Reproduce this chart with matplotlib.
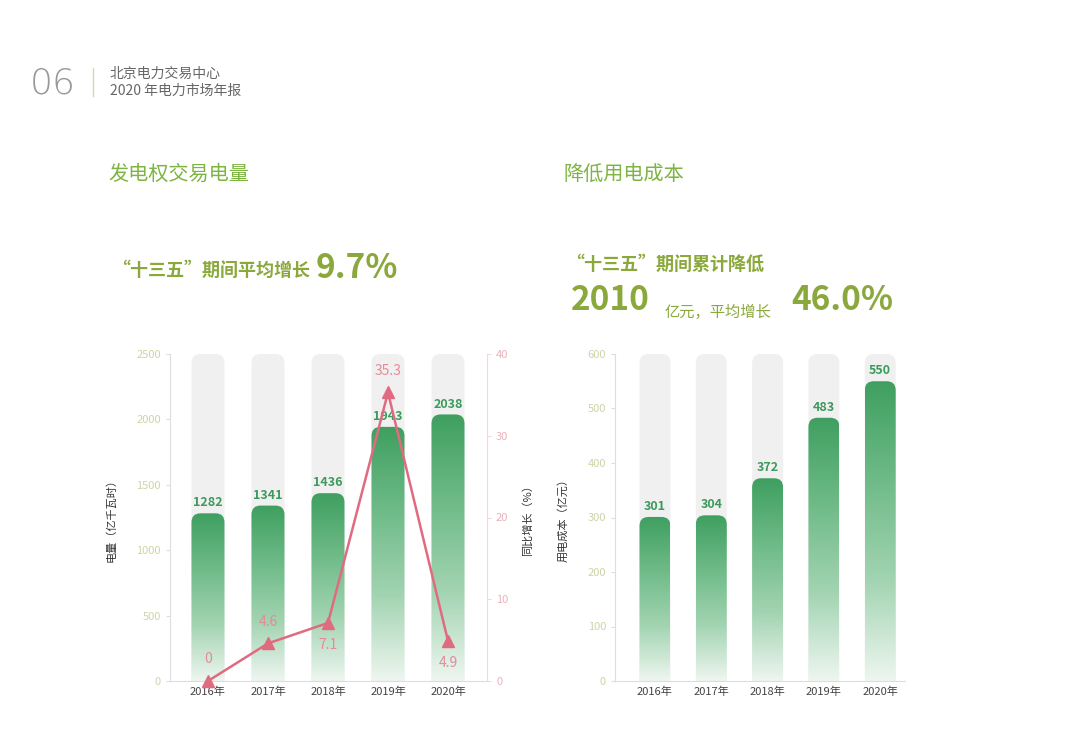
import matplotlib
matplotlib.use("Agg")
import matplotlib.pyplot as plt
import numpy as np
from matplotlib.patches import FancyBboxPatch
from matplotlib.colors import LinearSegmentedColormap

plt.rcParams["font.family"] = "Noto Sans CJK SC"

years = ["2016年", "2017年", "2018年", "2019年", "2020年"]
volume = [1282, 1341, 1436, 1943, 2038]
growth = [0, 4.6, 7.1, 35.3, 4.9]
growth_labels = ["0", "4.6", "7.1", "35.3", "4.9"]
cost = [301, 304, 372, 483, 550]

GREEN_T = "#7db442"
OLIVE = "#8aa83c"
VAL = "#3c9a5c"
PINK = "#e06b80"

fig = plt.figure(figsize=(10.8, 7.38), dpi=100)
cmap = LinearSegmentedColormap.from_list("g", ["#eef6f0", "#a3d4b2", "#6fbb88", "#3f9f60"])

def px(x, y):
    return x / 1080, 1 - y / 738

def draw_bars(ax, vals, ymax, xlim, ax_w_px, ax_h_px, bw=0.55):
    ax.set_xlim(*xlim)
    ax.set_ylim(0, ymax)
    ux = (xlim[1] - xlim[0]) / ax_w_px
    uy = ymax / ax_h_px
    asp = uy / ux
    r = 9 * ux
    grad = np.linspace(0, 1, 256).reshape(-1, 1)
    for i, v in enumerate(vals):
        bg = FancyBboxPatch((i - bw / 2, -r * asp * 2), bw, ymax + r * asp * 2,
                            boxstyle=f"round,pad=0,rounding_size={r}",
                            mutation_aspect=asp, fc="#f0f0f0", ec="none", zorder=1)
        ax.add_patch(bg)
        p = FancyBboxPatch((i - bw / 2, -r * asp * 2), bw, v + r * asp * 2,
                           boxstyle=f"round,pad=0,rounding_size={r}",
                           mutation_aspect=asp, fc="none", ec="none", zorder=2)
        ax.add_patch(p)
        im = ax.imshow(grad, cmap=cmap, aspect="auto", origin="lower",
                       extent=(i - bw / 2, i + bw / 2, 0, v), zorder=2)
        im.set_clip_path(p)
        ax.text(i, v + ymax * 0.012, str(v), ha="center", va="bottom",
                color=VAL, fontsize=9, fontweight="bold", zorder=5)
    ax.set_xticks(range(len(years)))
    ax.set_xticklabels(years, fontsize=8, color="#444444")
    for s in ["top", "right"]:
        ax.spines[s].set_visible(False)
    for s in ["left", "bottom"]:
        ax.spines[s].set_color("#dddddd")
    ax.tick_params(axis="x", length=0, pad=4)
    ax.tick_params(axis="y", length=3, color="#dddddd", labelsize=8)

# Left chart
l, b = px(170, 681)
ax1 = fig.add_axes([l, b, (487 - 170) / 1080, (681 - 354) / 738])
draw_bars(ax1, volume, 2500, (-0.633, 4.65), 317, 327)
ax1.set_yticks(range(0, 2501, 500))
ax1.tick_params(axis="y", labelcolor="#cdd4a6")
ax1.set_ylabel("电量（亿千瓦时）", fontsize=8, color="#333333", labelpad=14)

ax2 = ax1.twinx()
ax2.set_ylim(0, 40)
ax2.set_yticks(range(0, 41, 10))
for s in ["top", "left", "bottom"]:
    ax2.spines[s].set_visible(False)
ax2.spines["right"].set_color("#f0d8dc")
ax2.tick_params(axis="y", length=3, color="#f0d8dc", labelsize=8, labelcolor="#eab2bc")
ax2.set_ylabel("同比增长（%）", fontsize=8, color="#333333", rotation=90, labelpad=10)
ax2.plot(range(len(growth)), growth, color=PINK, lw=1.8, marker="^", ms=9, zorder=6, clip_on=False)
offs = [1.2, 1.2, -1.2, 1.2, -1.2]
for i, (g, t) in enumerate(zip(growth, growth_labels)):
    ax2.text(i, g + offs[i] * 1.5, t, ha="center", va="bottom" if offs[i] > 0 else "top",
             color="#e58a98", fontsize=10, zorder=7)

# Right chart
l, b = px(615, 681)
ax3 = fig.add_axes([l, b, (905 - 615) / 1080, (681 - 354) / 738])
draw_bars(ax3, cost, 600, (-0.71, 4.44), 290, 327)
ax3.set_yticks(range(0, 601, 100))
ax3.tick_params(axis="y", labelcolor="#cdd4a6")
ax3.set_ylabel("用电成本（亿元）", fontsize=8, color="#333333", labelpad=14)

# Header
fig.text(*px(30, 84), "06", fontsize=26, color="#999999", fontweight="light",
         family="DejaVu Sans", va="center")
fig.add_artist(plt.Line2D([93 / 1080, 93 / 1080], [1 - 68 / 738, 1 - 96 / 738], color="#c9dcb5", lw=1))
fig.text(*px(110, 74), "北京电力交易中心", fontsize=10, color="#666666", va="center")
fig.text(*px(110, 91), "2020 年电力市场年报", fontsize=10, color="#666666", va="center")

# Titles
fig.text(*px(108, 174), "发电权交易电量", fontsize=14.5, color=GREEN_T, va="center")
fig.text(*px(563, 174), "降低用电成本", fontsize=14.5, color=GREEN_T, va="center")
fig.text(*px(112, 270), "“十三五”期间平均增长", fontsize=13, color=OLIVE, va="center", fontweight="bold")
fig.text(*px(316, 268), "9.7%", fontsize=24, color=OLIVE, va="center", fontweight="bold")
fig.text(*px(566, 264), "“十三五”期间累计降低", fontsize=13, color=OLIVE, va="center", fontweight="bold")
fig.text(*px(571, 300), "2010", fontsize=24, color=OLIVE, va="center", fontweight="bold")
fig.text(*px(665, 312), "亿元，平均增长", fontsize=11, color=OLIVE, va="center")
fig.text(*px(791, 300), "46.0%", fontsize=24, color=OLIVE, va="center", fontweight="bold")

fig.savefig("out.png", dpi=100, facecolor="white")
